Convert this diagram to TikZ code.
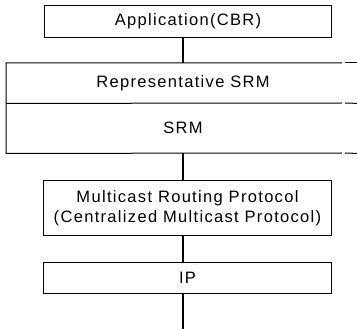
\documentclass[tikz,border=0pt]{standalone}
\usepackage{fontspec}
\setmainfont{Liberation Sans}[LetterSpace=8.0]
\begin{document}
\begin{tikzpicture}[x=1pt,y=-1pt,
  box/.style={draw,line width=1pt,inner sep=0pt,anchor=north west},
  band/.style={inner sep=0pt,anchor=north west},
  lbl/.style={font=\fontsize{16.5}{20}\selectfont,align=center},
  rule/.style={line width=1pt},
  link/.style={line width=1.4pt}]
\useasboundingbox (0,0) rectangle (357,329);
% top layer
\node[box,minimum width=287pt,minimum height=32pt] (app) at (44,5) {};
\node[lbl] (apptext) at (app.center) {Application(CBR)};
% open-ended band holding the two SRM layers
\node[band,minimum width=351pt,minimum height=40pt] (rep) at (6,63) {};
\node[band,minimum width=351pt,minimum height=50pt] (srm) at (6,103) {};
\node[lbl] (reptext) at (183,83) {Representative SRM};
\node[lbl] (srmtext) at (183,128) {SRM};
\draw[rule] (342,63) -- (rep.north west) -- (srm.south west) -- (342,153);
\draw[rule] (rep.south west) -- (342,103);
\draw[rule] (345,63) -- (rep.north east);
\draw[rule] (345,103) -- (rep.south east);
\draw[rule] (345,153) -- (srm.south east);
% lower layers
\node[box,minimum width=288pt,minimum height=55pt] (mrp) at (43,180) {};
\node[lbl] (mrptext) at (mrp.center) {Multicast Routing Protocol\\(Centralized Multicast Protocol)};
\node[box,minimum width=288pt,minimum height=31pt] (ip) at (43,262) {};
\node[lbl] (iptext) at (ip.center) {IP};
\coordinate (bottom) at (183,329);
% connectors between layers
\draw[link] (app.south -| bottom) -- (rep.north -| bottom);
\draw[link] (srm.south -| bottom) -- (mrp.north -| bottom);
\draw[link] (mrp.south -| bottom) -- (ip.north -| bottom);
\draw[link] (ip.south -| bottom) -- (bottom);
\end{tikzpicture}
\end{document}
